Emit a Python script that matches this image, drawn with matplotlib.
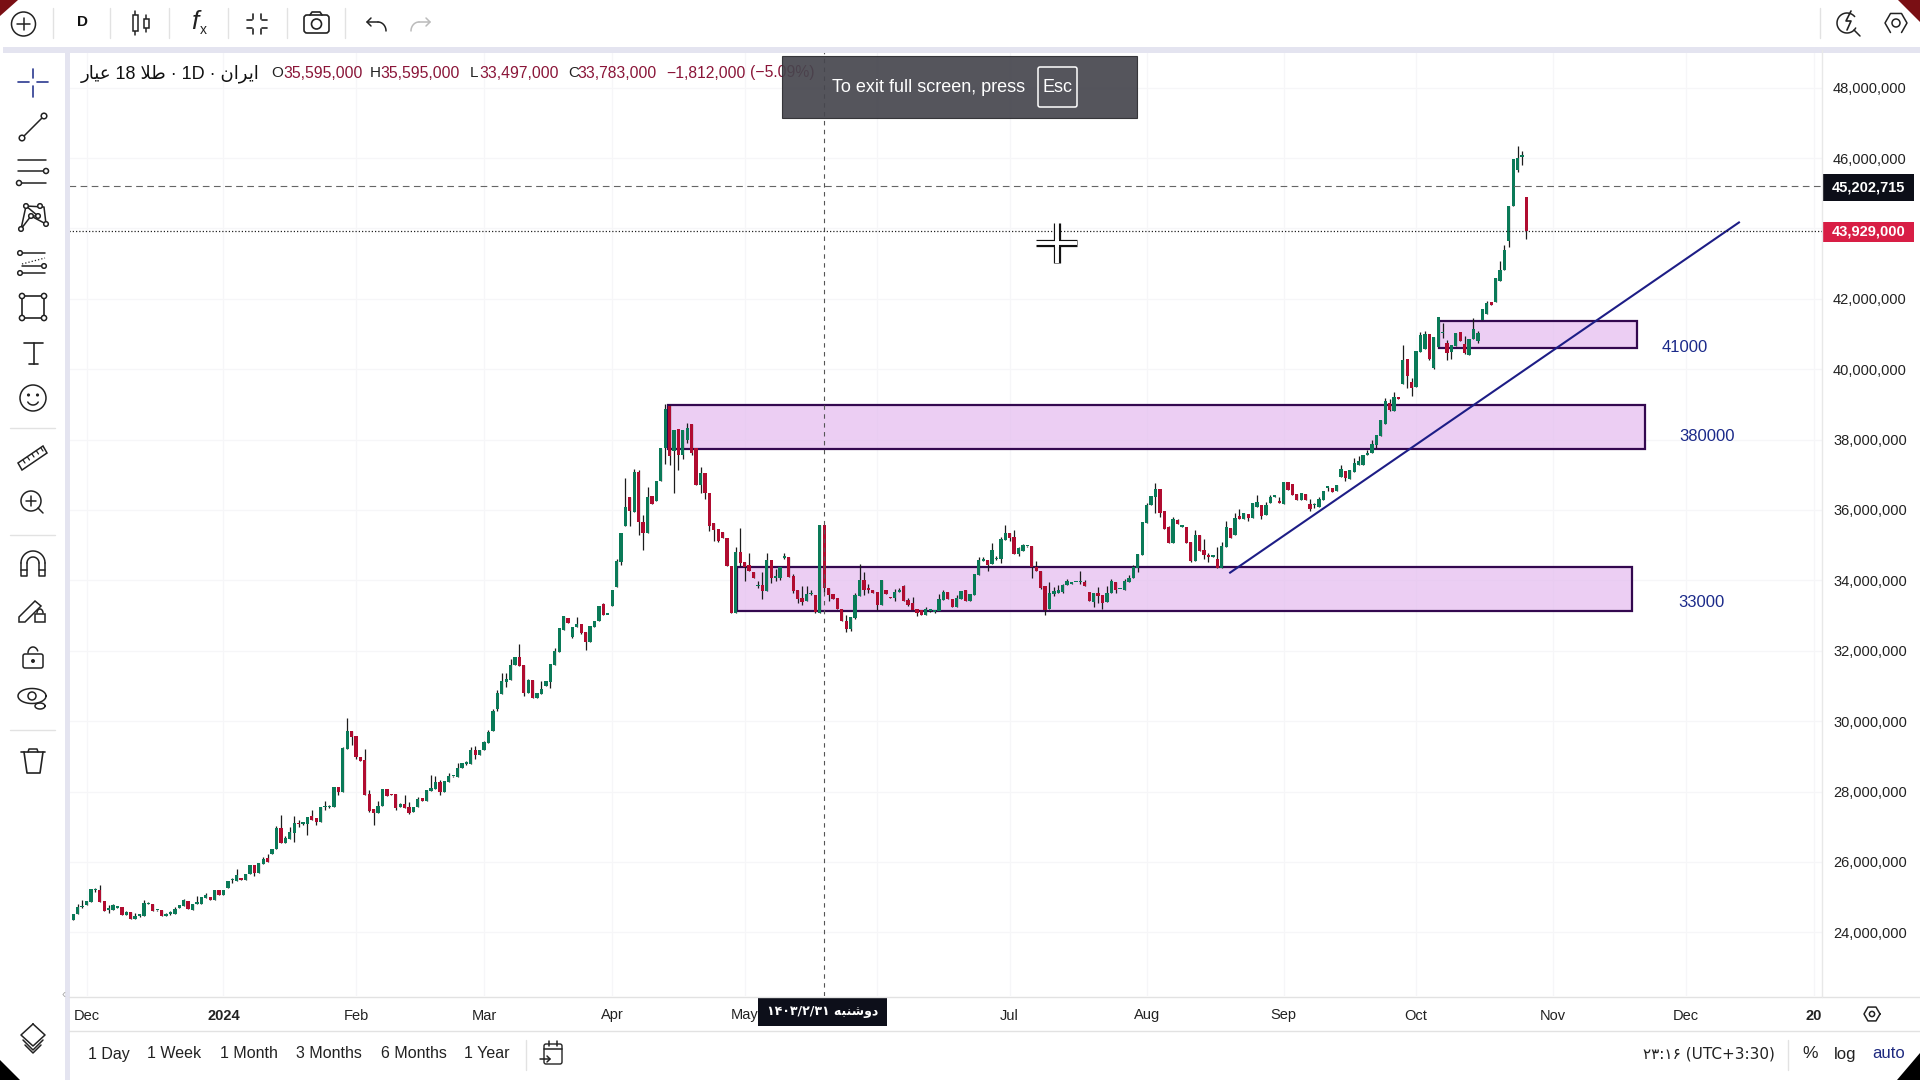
import matplotlib
matplotlib.use('Agg')
import matplotlib.pyplot as plt
import numpy as np
from matplotlib.patches import Circle, Polygon, Rectangle, FancyBboxPatch

plt.rcParams['font.family'] = ['Liberation Sans', 'DejaVu Sans']

# daily candles, price in millions
opens = [
    24.35,24.52,24.71,24.77,24.86,25.19,25.19,24.88,24.64,24.63,
    24.70,24.71,24.48,24.57,24.38,24.47,24.46,24.79,24.79,24.62,
    24.62,24.46,24.53,24.52,24.68,24.74,24.90,24.64,24.81,24.80,
    24.98,24.99,24.92,25.20,25.06,25.26,25.48,25.46,25.50,25.49,
    25.65,25.90,25.69,25.94,26.10,26.23,26.37,26.96,26.54,26.65,
    26.83,27.09,27.08,27.07,27.30,27.24,27.14,27.56,27.56,27.56,
    28.14,27.99,29.21,29.71,29.57,28.97,28.91,27.93,27.49,27.39,
    27.59,28.06,27.91,27.92,27.55,27.64,27.56,27.41,27.56,27.81,
    27.73,28.02,28.08,28.26,27.99,28.28,28.43,28.42,28.66,28.79,
    28.79,29.18,29.04,29.19,29.38,29.72,30.35,30.77,31.10,31.17,
    31.60,31.82,31.59,30.80,31.17,30.65,30.77,30.99,31.12,31.59,
    31.97,32.59,32.94,32.39,32.67,32.77,32.54,32.25,32.67,32.85,
    33.32,33.02,33.27,33.81,34.53,35.55,36.38,35.94,37.07,35.67,
    35.36,36.41,36.26,36.81,37.76,38.96,37.68,38.30,37.57,37.98,
    38.44,37.76,36.70,37.06,36.49,35.63,35.45,35.37,35.19,34.41,
    33.08,34.82,34.52,34.43,34.24,33.83,33.86,33.70,34.59,34.07,
    34.07,34.64,34.65,34.12,33.73,33.49,33.42,33.60,33.57,33.08,
    35.58,33.79,33.62,33.49,33.18,32.85,32.61,32.93,33.55,34.02,
    33.75,33.72,33.68,33.31,33.72,33.51,33.49,33.67,33.85,33.45,
    33.35,33.18,33.16,33.02,33.14,33.11,33.13,33.44,33.66,33.48,
    33.25,33.47,33.73,33.42,33.58,34.16,34.56,34.57,34.47,34.60,
    34.60,35.16,35.35,35.22,34.75,34.84,34.97,34.98,34.39,34.27,
    33.84,33.19,33.60,33.63,33.68,33.86,33.91,33.94,33.94,33.94,
    33.66,33.38,33.64,33.58,33.39,33.63,33.94,33.75,33.74,33.95,
    34.07,34.35,34.73,35.64,36.13,36.38,36.59,35.96,35.52,35.07,
    35.72,35.53,35.53,35.08,34.56,35.29,34.86,34.73,34.67,34.60,
    34.34,34.96,35.48,35.29,35.83,35.75,35.89,35.77,36.09,36.13,
    35.86,36.19,36.38,36.23,36.16,36.79,36.73,36.44,36.27,36.45,
    36.17,36.13,36.09,36.28,36.63,36.63,36.55,36.93,37.11,36.88,
    37.09,37.29,37.29,37.55,37.61,37.86,38.09,38.45,39.04,38.82,
    39.21,39.59,40.29,39.64,39.49,40.48,40.56,41.01,40.03,40.63,
    41.03,40.75,40.48,40.67,41.05,40.73,40.40,40.86,40.81,41.41,
    41.57,41.90,41.92,42.50,42.81,43.64,44.64,45.66,46.04,44.90,
]
highs = [
    24.53,24.81,24.91,24.88,25.24,25.26,25.34,24.88,24.77,24.80,
    24.74,24.71,24.60,24.57,24.56,24.51,24.91,24.86,24.79,24.63,
    24.62,24.55,24.60,24.71,24.77,24.96,24.90,24.79,25.03,25.01,
    25.11,24.99,25.19,25.20,25.21,25.47,25.55,25.79,25.52,25.67,
    25.91,25.90,25.96,26.13,26.22,26.38,27.02,27.33,26.73,26.98,
    27.30,27.19,27.13,27.29,27.47,27.24,27.55,27.73,27.62,28.14,
    28.14,29.27,30.10,29.71,29.57,28.97,29.20,28.05,27.49,27.74,
    28.06,28.06,27.92,27.92,27.68,27.90,27.71,27.57,27.84,27.81,
    28.05,28.46,28.43,28.32,28.30,28.54,28.44,28.81,28.80,28.86,
    29.26,29.28,29.19,29.44,29.75,30.35,30.88,31.38,31.37,31.76,
    31.81,32.19,31.59,31.20,31.17,30.80,31.15,31.14,31.63,32.07,
    32.65,32.99,32.94,32.68,32.96,32.77,32.54,32.69,32.84,33.27,
    33.37,33.03,33.74,34.62,35.34,36.91,36.38,37.16,37.13,35.85,
    36.64,36.41,36.83,37.77,39.00,38.98,38.28,38.30,38.28,38.48,
    38.44,37.76,37.23,37.06,36.49,35.63,35.45,35.37,35.19,34.41,
    34.96,35.48,34.52,34.79,34.24,33.97,34.24,34.79,34.59,34.32,
    34.38,34.77,34.65,34.17,33.73,33.84,33.84,33.73,33.57,35.58,
    35.58,33.79,33.62,33.49,33.18,33.03,32.95,33.65,34.47,34.25,
    33.90,33.72,33.68,34.00,33.72,33.52,33.75,33.79,33.88,33.50,
    33.53,33.18,33.16,33.23,33.19,33.15,33.60,33.72,33.66,33.48,
    33.58,33.69,33.73,33.62,34.17,34.67,34.67,34.57,35.05,34.69,
    35.24,35.58,35.35,35.43,34.96,35.02,34.98,34.98,34.54,34.27,
    33.84,33.96,33.82,33.86,33.90,34.04,33.92,33.96,34.26,34.01,
    33.66,33.63,33.82,33.58,33.84,34.03,33.94,33.76,34.03,34.15,
    34.44,34.74,35.66,36.19,36.40,36.78,36.59,35.96,35.55,35.79,
    35.75,35.54,35.53,35.08,35.43,35.29,35.17,34.79,34.68,34.96,
    35.10,35.69,35.48,35.90,36.02,35.90,35.89,36.19,36.43,36.13,
    36.24,36.43,36.39,36.36,36.79,36.79,36.73,36.44,36.47,36.45,
    36.32,36.21,36.38,36.53,36.65,36.63,36.72,37.28,37.11,37.15,
    37.47,37.52,37.56,37.71,37.99,38.14,38.57,39.18,39.15,39.35,
    39.21,40.70,40.29,39.75,40.51,41.05,41.08,41.01,40.92,41.47,
    41.32,40.82,40.70,41.03,41.05,40.94,40.86,41.46,41.08,41.70,
    41.93,41.90,42.60,43.07,43.52,44.64,45.96,46.34,46.20,44.90,
]
lows = [
    24.35,24.52,24.70,24.77,24.86,25.15,24.86,24.61,24.56,24.63,
    24.70,24.49,24.48,24.38,24.38,24.43,24.46,24.79,24.60,24.61,
    24.46,24.46,24.48,24.52,24.68,24.74,24.66,24.62,24.80,24.80,
    24.98,24.91,24.92,25.06,25.06,25.26,25.41,25.46,25.49,25.49,
    25.65,25.60,25.69,25.94,26.00,26.23,26.37,26.54,26.54,26.65,
    26.58,26.99,27.04,26.76,27.20,27.06,27.14,27.48,27.53,27.56,
    27.91,27.99,29.21,29.33,28.92,28.88,27.91,27.42,27.04,27.39,
    27.59,27.88,27.90,27.47,27.55,27.54,27.37,27.41,27.56,27.73,
    27.73,28.02,28.08,27.90,27.99,28.28,28.41,28.42,28.66,28.74,
    28.79,28.93,29.04,29.19,29.38,29.72,30.30,30.77,30.96,31.17,
    31.60,31.57,30.71,30.80,30.65,30.65,30.77,30.99,30.93,31.59,
    31.97,32.59,32.79,32.36,32.67,32.47,32.02,32.25,32.67,32.85,
    33.02,33.01,33.27,33.81,34.45,35.55,35.55,35.94,35.29,34.86,
    35.36,36.17,36.26,36.81,37.30,37.27,36.47,37.14,37.44,37.90,
    37.57,36.71,36.49,36.32,35.40,35.11,35.09,35.19,34.41,33.08,
    33.08,34.40,33.99,34.26,34.07,33.79,33.46,33.70,33.92,33.97,
    34.01,34.62,34.09,33.65,33.35,33.30,33.42,33.58,33.08,33.08,
    33.68,33.41,33.46,33.18,32.85,32.53,32.57,32.89,33.55,33.58,
    33.63,33.64,33.16,33.31,33.61,33.50,33.42,33.67,33.40,33.27,
    33.16,32.99,33.02,33.02,33.11,33.08,33.13,33.44,33.46,33.25,
    33.25,33.47,33.42,33.42,33.58,34.16,34.55,34.27,34.47,34.58,
    34.50,35.16,35.13,34.76,34.70,34.84,34.96,34.08,34.27,33.75,
    33.03,33.19,33.55,33.63,33.65,33.86,33.90,33.94,33.91,33.85,
    33.41,33.25,33.35,33.19,33.39,33.63,33.65,33.75,33.74,33.95,
    34.07,34.25,34.73,35.64,36.13,35.92,35.81,35.46,35.07,35.07,
    35.61,35.52,35.05,34.53,34.56,34.84,34.60,34.53,34.67,34.34,
    34.34,34.96,35.21,35.29,35.75,35.75,35.70,35.77,36.09,35.75,
    35.86,36.19,36.38,36.19,36.16,36.57,36.42,36.28,36.27,36.27,
    35.96,36.06,36.09,36.28,36.55,36.50,36.55,36.93,36.83,36.88,
    37.09,37.29,37.29,37.55,37.61,37.76,38.09,38.45,38.80,38.82,
    39.16,39.59,39.47,39.25,39.49,40.48,40.56,40.27,40.01,40.63,
    40.89,40.27,40.29,40.67,40.81,40.42,40.40,40.86,40.75,41.41,
    41.57,41.82,41.92,42.50,42.81,43.48,44.64,45.60,45.79,43.71,
]
closes = [
    24.53,24.73,24.73,24.88,25.22,25.21,24.86,24.61,24.66,24.77,
    24.71,24.49,24.58,24.38,24.46,24.48,24.84,24.81,24.60,24.62,
    24.46,24.51,24.55,24.67,24.77,24.91,24.66,24.79,24.82,24.99,
    25.05,24.91,25.19,25.06,25.21,25.47,25.50,25.62,25.49,25.67,
    25.91,25.68,25.96,26.08,26.00,26.38,26.96,26.54,26.68,26.84,
    27.10,27.07,27.10,27.29,27.20,27.14,27.55,27.58,27.58,28.14,
    27.99,29.23,29.72,29.55,28.99,28.88,27.91,27.45,27.38,27.60,
    28.06,27.88,27.90,27.53,27.64,27.54,27.40,27.57,27.79,27.73,
    28.05,28.10,28.26,27.99,28.30,28.43,28.44,28.66,28.80,28.82,
    29.18,29.03,29.19,29.40,29.70,30.30,30.79,31.14,31.19,31.59,
    31.81,31.57,30.80,31.18,30.65,30.80,30.90,31.14,31.63,31.99,
    32.65,32.99,32.79,32.68,32.77,32.51,32.26,32.69,32.84,33.27,
    33.02,33.02,33.74,34.55,35.34,36.08,35.96,37.07,35.66,35.34,
    36.36,36.17,36.83,37.77,38.88,37.54,38.28,37.57,38.28,38.33,
    37.63,36.71,37.06,36.49,35.54,35.43,35.13,35.19,34.41,33.08,
    34.82,34.48,34.37,34.26,34.07,33.85,33.70,34.59,34.07,34.09,
    34.38,34.66,34.09,33.69,33.46,33.39,33.61,33.60,33.11,35.58,
    33.78,33.57,33.46,33.18,32.85,32.63,32.95,33.57,34.02,33.74,
    33.73,33.64,33.29,34.00,33.61,33.50,33.68,33.74,33.40,33.30,
    33.16,33.06,33.02,33.19,33.16,33.13,33.46,33.68,33.46,33.25,
    33.50,33.69,33.42,33.62,34.17,34.58,34.58,34.43,34.85,34.62,
    35.17,35.36,35.19,34.76,34.91,35.00,34.97,34.39,34.27,33.79,
    33.17,33.63,33.71,33.73,33.87,33.99,33.91,33.95,33.95,33.85,
    33.41,33.63,33.55,33.35,33.65,33.97,33.74,33.75,33.99,34.08,
    34.39,34.74,35.66,36.15,36.40,36.60,35.92,35.46,35.07,35.75,
    35.61,35.53,35.05,34.55,35.29,34.84,34.72,34.66,34.67,34.34,
    34.98,35.53,35.21,35.77,35.75,35.90,35.77,36.19,36.22,35.83,
    36.14,36.38,36.38,36.21,36.79,36.57,36.42,36.28,36.47,36.27,
    36.02,36.15,36.31,36.53,36.64,36.50,36.72,37.16,36.90,37.15,
    37.34,37.38,37.56,37.61,37.88,38.14,38.57,39.09,38.85,39.20,
    39.16,40.27,39.82,39.47,40.51,40.97,41.01,40.30,40.92,41.47,
    41.05,40.46,40.70,41.03,40.81,40.45,40.86,41.15,41.03,41.70,
    41.89,41.82,42.60,42.83,43.38,44.64,45.96,46.01,46.10,43.93,
]

y_ticks = list(range(24, 50, 2))
# the June label sits under the date tag in the picture, so only its grid line shows
month_pos = [3, 34, 64, 93, 122, 152, 182, 212, 243, 274, 304, 335, 365, 394]
month_labels = ['Dec', '2024', 'Feb', 'Mar', 'Apr', 'May', '', 'Jul', 'Aug', 'Sep', 'Oct', 'Nov', 'Dec', '20']
bold_labels = ['2024', '20']

# drawings on the chart: bar position, price
zone_left = [134.7, 150.2, 309.1]
zone_right = [355.8, 352.9, 354.1]
zone_low = [37.73, 33.12, 40.59]
zone_high = [38.98, 34.39, 41.38]
trend_x = [261.9, 377.1]
trend_y = [34.22, 44.17]
note_x = [364.9, 369.8, 368.7]
note_y = [40.61, 38.08, 33.38]
note_text = ['41000', '380000', '33000']

cursor_bar = 170
cursor_price = 45.202715
last_price = 43.929

range_labels = ['1 Day', '1 Week', '1 Month', '3 Months', '6 Months', '1 Year']
range_pos = [109, 174, 248.6, 329, 414, 487]

GREEN = '#0a7a58'
RED = '#b00c30'
DARK = '#1c1c1c'

fig = plt.figure(figsize=(19.2, 10.8), dpi=100, facecolor='white')

# chart pane, 69..1822 x 50..996 in pixels
ax = fig.add_axes([69 / 1920, 1 - 996 / 1080, (1822 - 69) / 1920, (996 - 50) / 1080])
ax.set_xlim(-0.97, 395.9)
ax.set_ylim(22.19, 49.07)
for s in ax.spines.values():
    s.set_visible(False)
ax.grid(True, color='#f6f6f8', linewidth=0.9)
ax.set_axisbelow(True)

ax.yaxis.tick_right()
ax.set_yticks(y_ticks)
ax.set_yticklabels([f'{v * 1000000:,}' for v in y_ticks], fontsize=10.5, color='#222222')
ax.set_xticks(month_pos)
ax.set_xticklabels(month_labels, fontsize=10.5, color='#222222')
for lab in ax.get_xticklabels():
    if lab.get_text() in bold_labels:
        lab.set_fontweight('bold')
ax.tick_params(axis='both', length=0)
ax.tick_params(axis='y', pad=8)
ax.tick_params(axis='x', pad=9)

# zones
for l, r, lo, hi in zip(zone_left, zone_right, zone_low, zone_high):
    ax.add_patch(Rectangle((l, lo), r - l, hi - lo, facecolor='#e3b8ee', alpha=0.68, edgecolor='none', zorder=1))
    ax.add_patch(Rectangle((l, lo), r - l, hi - lo, fill=False, edgecolor='#33084f', linewidth=1.6, zorder=2))

# candles
x = np.arange(len(opens))
o = np.array(opens)
h = np.array(highs)
l_ = np.array(lows)
c = np.array(closes)
colors = [GREEN if a >= b else RED for a, b in zip(c, o)]
ax.vlines(x, l_, h, colors=DARK, linewidth=0.9, zorder=3)
ax.bar(x, np.maximum(np.abs(c - o), 0.04), bottom=np.minimum(o, c), width=0.74,
       color=colors, linewidth=0, zorder=4)

ax.plot(trend_x, trend_y, color='#1d1d86', linewidth=1.5, zorder=5)
for nx, ny, t in zip(note_x, note_y, note_text):
    ax.text(nx, ny, t, color='#1b2a8a', fontsize=12, ha='center', va='center', zorder=6)

ax.axvline(cursor_bar, color='#555555', linewidth=0.8, linestyle=(0, (4, 4)), zorder=6)
ax.axhline(cursor_price, color='#666666', linewidth=0.8, linestyle=(0, (6, 4)), zorder=6)
ax.axhline(last_price, color='#222222', linewidth=0.9, linestyle=(0, (1, 1.6)), zorder=6)

# everything around the chart is drawn on a pixel overlay
ui = fig.add_axes([0, 0, 1, 1], zorder=5)
ui.set_xlim(0, 1920)
ui.set_ylim(1080, 0)
ui.axis('off')
ui.patch.set_alpha(0)


def ln(xs, ys, color='#222222', lw=1.1, **kw):
    ui.plot(xs, ys, color=color, linewidth=lw, solid_capstyle='round', **kw)


def ring(cx, cy, r, color='#222222', lw=1.1, fc='white'):
    ui.add_patch(Circle((cx, cy), r, facecolor=fc, edgecolor=color, linewidth=lw, zorder=4))


def arc(cx, cy, rx, ry, a0, a1, color='#222222', lw=1.1):
    t = np.radians(np.linspace(a0, a1, 40))
    ln(cx + rx * np.cos(t), cy + ry * np.sin(t), color=color, lw=lw)


def txt(px, py, s, size=11, color='#222222', ha='center', weight='normal'):
    ui.text(px, py, s, fontsize=size, color=color, ha=ha, va='center', fontweight=weight)


# pane borders
ui.add_patch(Rectangle((3, 47), 1917, 6, facecolor='#e4e4f0', edgecolor='none'))
ui.add_patch(Rectangle((65, 50), 5, 1030, facecolor='#e4e4f0', edgecolor='none'))
ln([69, 1920], [997, 997], color='#e2e2e2', lw=1)
ln([69, 1920], [1031, 1031], color='#e2e2e2', lw=1)
ln([1822, 1822], [50, 997], color='#e8e8e8', lw=1)
for sx in [53, 110, 169, 228, 287, 345, 1820]:
    ln([sx, sx], [8, 38], color='#e2e2e2', lw=1)
for sy in [428, 535, 730]:
    ln([10, 55], [sy, sy], color='#e2e2e2', lw=1)
ln([526, 526], [1040, 1070], color='#e2e2e2', lw=1)
ln([1788, 1788], [1040, 1070], color='#e2e2e2', lw=1)

# corners of the screen
ui.add_patch(Polygon([(0, 0), (18, 0), (0, 16)], facecolor='#7a0f14', edgecolor='none'))
ui.add_patch(Polygon([(1898, 0), (1920, 0), (1920, 22)], facecolor='#7a0f14', edgecolor='none'))
ui.add_patch(Polygon([(0, 1060), (0, 1080), (20, 1080)], facecolor='#000000', edgecolor='none'))

# header line
title = '\ufead\ufe8e\ufbff\ufecb 18 \ufefc\ufec3 \u00b7 1D \u00b7 \ufee5\ufe8d\ufeae\ufbfe\ufe8d'
txt(81, 74, title, size=13, ha='left', color='#111111')
VAL = '#8a1538'
for px, s in zip([271, 370, 470, 568], ['O', 'H', 'L', 'C']):
    txt(px, 73, s, size=11, ha='left')
for px, s in zip([283, 380, 479, 577, 666, 750],
                 ['35,595,000', '35,595,000', '33,497,000', '33,783,000', '\u22121,812,000', '(\u22125.09%)']):
    txt(px, 73, s, size=11.3, ha='left', color=VAL)

# full screen message
ui.add_patch(Rectangle((782, 56), 355, 62, facecolor='#46464e', edgecolor='#2c2c30', linewidth=0.8, alpha=0.92, zorder=6))
ui.text(832, 88, 'To exit full screen, press', fontsize=13, color='white', ha='left', va='center', zorder=7)
ui.add_patch(FancyBboxPatch((1038, 67), 39, 40, boxstyle='round,pad=0,rounding_size=2', fill=False, edgecolor='white', linewidth=1.1, zorder=7))
ui.text(1057.5, 88, 'Esc', fontsize=13, color='white', ha='center', va='center', zorder=7)

# mouse cursor
for cw, lw in [('#111111', 5.2), ('white', 2.8)]:
    ui.plot([1056.5, 1056.5], [223, 263], color=cw, linewidth=lw, solid_capstyle='butt', zorder=8)
    ui.plot([1036, 1077], [243, 243], color=cw, linewidth=lw, solid_capstyle='butt', zorder=8)
ui.plot([1056.5, 1056.5], [239, 247], color='white', linewidth=2.8, solid_capstyle='butt', zorder=9)

# price tags
ui.add_patch(Rectangle((1823, 174), 91, 27, facecolor='#0c0e18', edgecolor='none'))
txt(1868.5, 187.5, '45,202,715', size=10.5, color='white', weight='bold')
ui.add_patch(Rectangle((1823, 222), 91, 20, facecolor='#d81e45', edgecolor='none'))
txt(1868.5, 232, '43,929,000', size=10.5, color='white', weight='bold')

# date tag
ui.add_patch(Rectangle((758, 998), 129, 28, facecolor='#0d0f1a', edgecolor='none'))
date_txt = '\u06f1\u06f4\u06f0\u06f3/\u06f2/\u06f3\u06f1 \ufeea\ufe92\ufee8\ufeb7\ufeed\ufea9'
ui.text(822.5, 1012, date_txt, fontsize=9, color='white', ha='center', va='center', family='DejaVu Sans', fontweight='bold')

# bottom bar
for px, s in zip(range_pos, range_labels):
    txt(px, 1054, s, size=11.5)
time_txt = '\u06f2\u06f3:\u06f1\u06f6 (UTC+3:30)'
ui.text(1709, 1054, time_txt, fontsize=11, color='#222222', ha='center', va='center', family='DejaVu Sans')
txt(1810, 1054, '%', size=12.5)
txt(1845, 1054, 'log', size=12)
txt(1889, 1054, 'auto', size=12, color='#1e2a80')
ui.add_patch(Polygon([(1897, 1080), (1920, 1053), (1920, 1080)], facecolor='#000000', edgecolor='none', zorder=6))

# calendar icon
ui.add_patch(FancyBboxPatch((544, 1044), 18, 20, boxstyle='round,pad=0,rounding_size=2', fill=False, edgecolor='#222222', linewidth=1.0))
ln([544, 562], [1049, 1049])
ln([549, 549], [1041, 1046])
ln([557, 557], [1041, 1046])
ln([540, 550], [1059, 1059])
ln([547, 550, 547], [1056, 1059, 1062])

# settings hexagon under the price scale
t = np.radians(np.arange(0, 361, 60))
ln(1872 + 8 * np.cos(t), 1014 + 8 * np.sin(t))
ring(1872, 1014, 2.6)
txt(64, 995, '\u2039', size=9, color='#aaaaaa')

# top toolbar
ring(23.5, 24, 12, fc='none')
ln([17, 30], [24, 24])
ln([23.5, 23.5], [18, 30])
txt(82, 22, 'D', size=11, weight='bold', color='#111111')
ln([135, 135], [11, 35])
ui.add_patch(Rectangle((132.5, 15), 5, 16, facecolor='white', edgecolor='#222222', linewidth=1.1, zorder=3))
ln([146, 146], [15, 32])
ui.add_patch(Rectangle((143.5, 19), 5, 9, facecolor='white', edgecolor='#222222', linewidth=1.1, zorder=3))
ui.text(195, 22, 'f', fontsize=19, color='#222222', ha='center', va='center', style='italic')
txt(203, 30, 'x', size=10, color='#222222')
for sx_, sy_ in [(-1, -1), (1, -1), (-1, 1), (1, 1)]:
    ln([257 + sx_ * 10, 257 + sx_ * 5], [24 + sy_ * 4, 24 + sy_ * 4], lw=1.2)
    ln([257 + sx_ * 4, 257 + sx_ * 4], [24 + sy_ * 5, 24 + sy_ * 10], lw=1.2)
ui.add_patch(FancyBboxPatch((304, 15), 25, 18, boxstyle='round,pad=0,rounding_size=3', fill=False, edgecolor='#222222', linewidth=1.2))
ln([310, 312, 320, 322], [15, 12, 12, 15], lw=1.2)
ring(316.5, 24, 5, lw=1.2)
arc(378, 31, 8, 9, -90, 0)
ln([367, 378], [22, 22])
ln([371, 367, 371], [18, 22, 26])
arc(419, 31, 8, 9, 180, 270, color='#bbbbbb')
ln([419, 430], [22, 22], color='#bbbbbb')
ln([426, 430, 426], [18, 22, 26], color='#bbbbbb')
arc(1847, 23, 10, 10, 30, 320)
ln([1854, 1860], [30, 36])
ln([1851, 1846, 1851, 1847], [11, 21, 21, 30], lw=1.2)
t = np.radians(np.arange(30, 331, 60))
ln(1896 + 11 * np.sin(t), 23 + 11 * np.cos(t))
ring(1896, 23, 4)

# left toolbar
BLUE = '#2b3a90'
ln([18, 29], [82, 82], color=BLUE, lw=1.2)
ln([37, 48], [82, 82], color=BLUE, lw=1.2)
ln([33, 33], [69, 78], color=BLUE, lw=1.2)
ln([33, 33], [86, 97], color=BLUE, lw=1.2)

ln([22, 44], [138, 116])
ring(22, 138, 2.8)
ring(44, 116, 2.8)

ln([18, 46], [160, 160])
ln([18, 44], [171, 171])
ln([22, 46], [183, 183])
ring(46, 171, 2.5)
ring(19, 183, 2.5)

ln([21, 26, 44, 46, 31, 21], [229, 206, 207, 224, 216, 229])
ln([26, 38, 31], [206, 216, 216])
for px, py in [(21, 229), (26, 206), (40, 206), (46, 224), (31, 216), (38, 216)]:
    ring(px, py, 2.3)

ln([22, 45], [253, 253])
ln([22, 45], [264, 258], lw=0.9, linestyle=':')
ln([22, 45], [266, 266])
ln([22, 45], [273, 273])
ring(20, 253, 2.3)
ring(44, 266, 2.3)
ring(20, 273, 2.3)

ui.add_patch(Rectangle((22, 296), 22, 22, fill=False, edgecolor='#222222', linewidth=1.2))
for px, py in [(22, 296), (44, 296), (22, 318), (44, 318)]:
    ring(px, py, 2.6)

ln([24, 43], [343, 343], lw=1.2)
ln([33.5, 33.5], [343, 364], lw=1.2)
ln([29, 38], [364, 364], lw=1.2)

ring(33, 398, 13, fc='none')
ring(28.5, 395, 0.8, fc='#222222')
ring(37.5, 395, 0.8, fc='#222222')
arc(33, 399, 6, 6, 30, 150)

ui.add_patch(Polygon([(18, 463), (43, 446), (47, 453), (22, 470)], fill=False, edgecolor='#222222', linewidth=1.1))
for k in range(5):
    ln([23 + 4.5 * k, 25 + 4.5 * k], [460 - 3 * k, 463 - 3 * k], lw=0.9)

ring(31, 501, 10, fc='none')
ln([26, 36], [501, 501])
ln([31, 31], [496, 506])
ln([38, 43], [508, 513])

arc(33, 563, 12, 12, 180, 360)
arc(33, 563, 6, 6, 180, 360)
ln([21, 21, 27, 27], [563, 576, 576, 563])
ln([39, 39, 45, 45], [563, 576, 576, 563])
ln([21, 27], [570, 570])
ln([39, 45], [570, 570])

ui.add_patch(Polygon([(19, 617), (35, 601), (41, 606), (25, 622), (19, 622)], fill=False, edgecolor='#222222', linewidth=1.1))
ui.add_patch(Rectangle((35, 614), 10, 8, facecolor='white', edgecolor='#222222', linewidth=1.1, zorder=3))
arc(40, 613, 3, 4, 180, 360)

ui.add_patch(FancyBboxPatch((23, 654), 20, 14, boxstyle='round,pad=0,rounding_size=2', fill=False, edgecolor='#222222', linewidth=1.1))
arc(33, 653, 5, 6, 180, 340)
ring(33, 661, 1.2, fc='#222222')

t = np.radians(np.linspace(0, 360, 50))
ln(32 + 14 * np.cos(t), 696 + 7.5 * np.sin(t))
ring(32, 696, 4)
arc(40, 706, 5, 3, 0, 360)

ln([21, 45], [752, 752], lw=1.2)
ln([28, 29, 37, 38], [752, 749, 749, 752], lw=1.1)
ln([24, 27, 40, 43], [752, 773, 773, 752], lw=1.2)

ln([33, 45, 33, 21, 33], [1024, 1035, 1046, 1035, 1024], lw=1.1)
ln([23, 33, 43], [1040, 1050, 1040], lw=1.1)
ln([25, 33, 41], [1045, 1053, 1045], lw=1.1)

fig.savefig('out.png', dpi=100)
plt.close(fig)
